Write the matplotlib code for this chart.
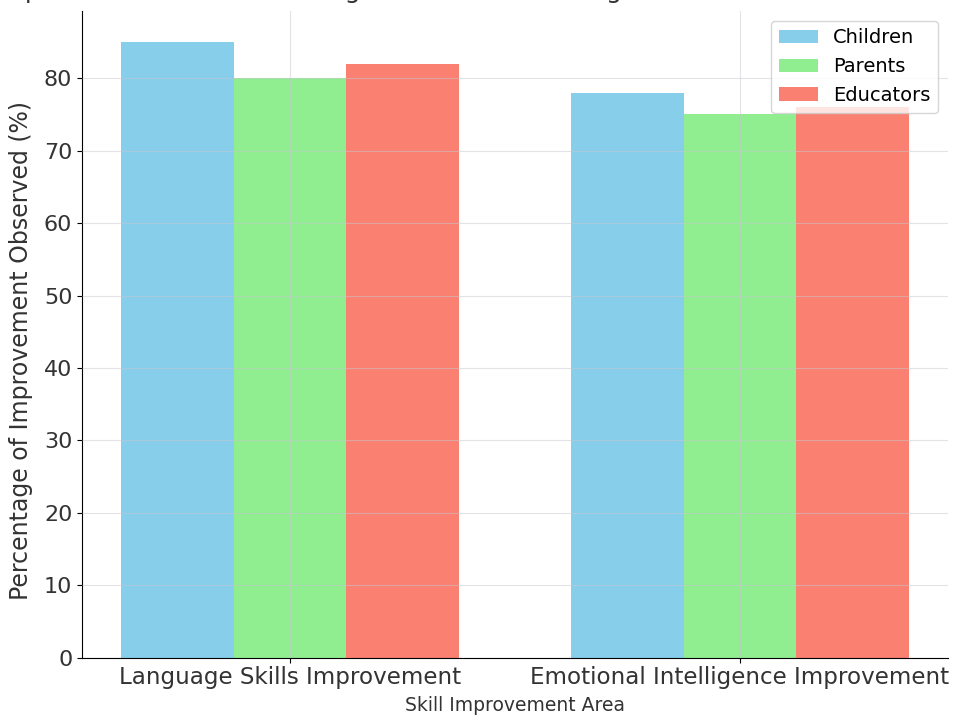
import numpy as np
import matplotlib.pyplot as plt

# data
areas = ["Language Skills Improvement", "Emotional Intelligence Improvement"]
children = [85, 78]
parents = [80, 75]
educators = [82, 76]

groups = ["Children", "Parents", "Educators"]
colors = ["skyblue", "lightgreen", "salmon"]

fig = plt.figure(figsize=(9.54, 7.18), dpi=100)
ax = fig.add_axes([0.086, 0.0836, 0.9077, 0.9011])

x = np.arange(len(areas))
width = 0.25

for i, (vals, name) in enumerate(zip([children, parents, educators], groups)):
    ax.bar(x + (i - 1) * width, vals, width, label=name, color=colors[i])

ax.set_xticks(x)
ax.set_xticklabels(areas, fontsize=16.6, color="#333333")
ax.tick_params(axis="y", labelsize=16, labelcolor="#333333")
ax.tick_params(axis="x", pad=2)
ax.set_xlabel("Skill Improvement Area", fontsize=13.5, color="#333333", labelpad=5)
ax.set_ylabel("Percentage of Improvement Observed (%)", fontsize=17, color="#333333")
ax.yaxis.set_label_coords(-0.057, 0.476)

ax.grid(True, color="#c8c8d0", linewidth=0.8, alpha=0.5)
ax.set_axisbelow(False)
for s in ["top", "right"]:
    ax.spines[s].set_visible(False)

ax.legend(loc="upper right", fontsize=14, framealpha=0.8, borderaxespad=0.5)

# title is cut off at the top edge in the reference
fig.text(0.54, 1 + 2 / 718, "Impact of Children's Learning Videos in Enhancing Skills and Emotional Intelligence",
         ha="center", va="baseline", fontsize=18, color="#333333")

fig.savefig("out.png", dpi=100)
